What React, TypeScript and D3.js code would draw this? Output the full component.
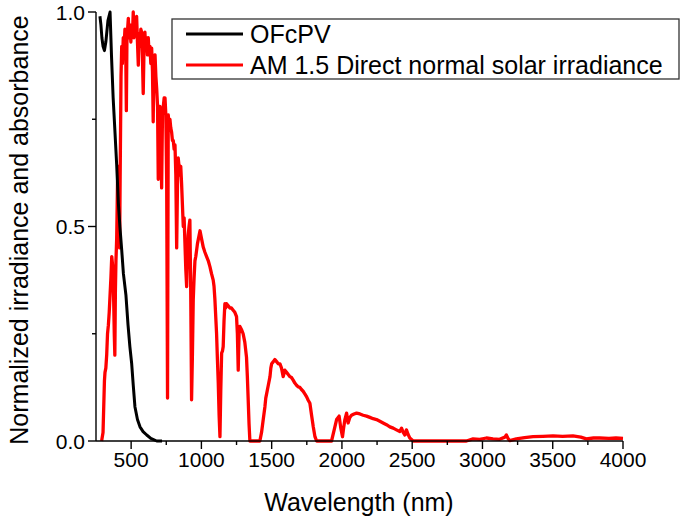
import * as d3 from 'd3';

type Pt = [number, number];

// OFcPV normalized absorbance (wavelength nm, value)
const ofcpv: Pt[] = [
  [278, 0.99], [285, 0.97], [292, 0.94], [300, 0.92], [310, 0.91], [320, 0.93],
  [335, 0.98], [350, 1.0], [360, 0.9], [372, 0.8], [385, 0.72], [397, 0.645],
  [409, 0.555], [420, 0.5], [433, 0.445], [445, 0.39], [463, 0.34], [478, 0.27],
  [491, 0.22], [504, 0.18], [515, 0.13], [527, 0.08], [545, 0.05], [563, 0.033],
  [585, 0.022], [611, 0.014], [640, 0.006], [682, 0.0], [720, 0.0],
];

// AM 1.5 direct normal solar irradiance, normalized
const am15: Pt[] = [
  [290, 0], [300, 0.02], [305, 0.08], [310, 0.14], [314, 0.16], [320, 0.17], [326, 0.2],
  [332, 0.25], [338, 0.27], [344, 0.3], [350, 0.34], [356, 0.38], [362, 0.43], [368, 0.41],
  [374, 0.36], [380, 0.25], [384, 0.2], [388, 0.35], [392, 0.42], [397, 0.47], [403, 0.6],
  [409, 0.64], [413, 0.52], [418, 0.45], [422, 0.62], [428, 0.85], [433, 0.92], [438, 0.88],
  [444, 0.94], [450, 0.92], [456, 0.96], [462, 0.9], [466, 0.77], [470, 0.93], [475, 0.96],
  [480, 0.985], [486, 0.94], [492, 0.97], [498, 0.93], [504, 0.97], [510, 0.95], [515, 1.0],
  [520, 0.94], [527, 0.98], [533, 0.95], [539, 0.99], [545, 0.93], [551, 0.876], [557, 0.95],
  [563, 0.92], [569, 0.96], [575, 0.953], [580, 0.9], [586, 0.81], [592, 0.92], [598, 0.953],
  [604, 0.91], [610, 0.94], [616, 0.9], [622, 0.94], [628, 0.9], [634, 0.92], [640, 0.88],
  [646, 0.916], [652, 0.86], [657, 0.744], [662, 0.88], [670, 0.9], [676, 0.85], [682, 0.82],
  [688, 0.78], [693, 0.61], [699, 0.78], [705, 0.78], [711, 0.74], [717, 0.59], [723, 0.76],
  [729, 0.78], [735, 0.8], [741, 0.8], [747, 0.76], [753, 0.6], [759, 0.1], [764, 0.76],
  [770, 0.74], [776, 0.75], [782, 0.73], [788, 0.72], [794, 0.7], [800, 0.7], [806, 0.68],
  [812, 0.69], [818, 0.62], [824, 0.45], [830, 0.6], [835, 0.66], [841, 0.64], [847, 0.62],
  [853, 0.64], [859, 0.6], [865, 0.55], [871, 0.5], [877, 0.52], [883, 0.46], [889, 0.4],
  [895, 0.36], [900, 0.42], [906, 0.48], [912, 0.5], [918, 0.515], [924, 0.35], [930, 0.096],
  [936, 0.2], [942, 0.33], [948, 0.38], [954, 0.42], [960, 0.43], [966, 0.445], [972, 0.46],
  [978, 0.47], [984, 0.48], [990, 0.49], [996, 0.48], [1002, 0.47], [1013, 0.452], [1025, 0.44],
  [1037, 0.43], [1049, 0.42], [1061, 0.406], [1072, 0.39], [1084, 0.375], [1090, 0.36],
  [1096, 0.33], [1102, 0.29], [1108, 0.25], [1114, 0.19], [1120, 0.135], [1126, 0.06],
  [1132, 0.01], [1138, 0.12], [1144, 0.205], [1150, 0.21], [1155, 0.22], [1161, 0.28],
  [1167, 0.32], [1173, 0.31], [1179, 0.32], [1191, 0.315], [1203, 0.31], [1214, 0.31],
  [1226, 0.305], [1238, 0.3], [1250, 0.29], [1256, 0.25], [1262, 0.165], [1268, 0.25],
  [1274, 0.267], [1285, 0.26], [1297, 0.25], [1309, 0.23], [1321, 0.195], [1327, 0.15],
  [1333, 0.096], [1339, 0.04], [1345, 0], [1416, 0], [1428, 0.02], [1440, 0.05], [1452, 0.08],
  [1458, 0.1], [1464, 0.11], [1476, 0.13], [1488, 0.15], [1494, 0.17], [1500, 0.18],
  [1512, 0.185], [1523, 0.19], [1535, 0.185], [1547, 0.18], [1559, 0.18], [1570, 0.17],
  [1582, 0.15], [1594, 0.165], [1606, 0.16], [1618, 0.155], [1630, 0.15], [1641, 0.148],
  [1653, 0.142], [1665, 0.135], [1677, 0.13], [1689, 0.126], [1701, 0.125], [1712, 0.12],
  [1724, 0.116], [1736, 0.11], [1749, 0.103], [1760, 0.095], [1772, 0.088], [1784, 0.06],
  [1796, 0.033], [1808, 0.01], [1820, 0], [1926, 0], [1944, 0.025], [1962, 0.05], [1980, 0.058],
  [1992, 0.03], [2004, 0.01], [2012, 0.03], [2021, 0.05], [2033, 0.065], [2044, 0.042],
  [2056, 0.055], [2068, 0.06], [2086, 0.063], [2104, 0.065], [2128, 0.063], [2151, 0.06],
  [2175, 0.058], [2199, 0.055], [2222, 0.052], [2246, 0.05], [2270, 0.046], [2293, 0.042],
  [2317, 0.038], [2341, 0.033], [2365, 0.03], [2388, 0.026], [2412, 0.022], [2424, 0.03],
  [2436, 0.02], [2448, 0.014], [2459, 0.026], [2471, 0.015], [2483, 0.007], [2507, 0],
  [2886, 0], [2933, 0.005], [2980, 0.004], [3028, 0.007], [3075, 0.005], [3122, 0.004],
  [3160, 0.009], [3170, 0.014], [3182, 0.006], [3194, 0.001], [3241, 0.005], [3300, 0.008],
  [3360, 0.01], [3430, 0.011], [3502, 0.012], [3570, 0.011], [3644, 0.012], [3700, 0.009],
  [3739, 0.005], [3790, 0.007], [3834, 0.007], [3900, 0.006], [3950, 0.007], [4000, 0.006],
];

const xMajor = [500, 1000, 1500, 2000, 2500, 3000, 3500, 4000];
const xMinor = [750, 1250, 1750, 2250, 2750, 3250, 3750];
const yMajor = [0, 0.5, 1.0];
const yMinor = [0.25, 0.75];

const seriesNames = ['OFcPV', 'AM 1.5 Direct normal solar irradiance'];
const seriesColors = ['#000000', '#ff0000'];

const W = 685;
const H = 520;
const font = 'Liberation Sans, Arial, sans-serif';

export default function App() {
  const x = d3.scaleLinear().domain([250, 4000]).range([96, 623]);
  const y = d3.scaleLinear().domain([0, 1]).range([441, 12]);
  const line = d3
    .line<Pt>()
    .x((d) => x(d[0]))
    .y((d) => y(d[1]));

  return (
    <svg
      width={W}
      height={H}
      style={{ position: 'absolute', left: 0, top: 0, background: '#fff' }}
      fontFamily={font}
    >
      <path d={line(am15) ?? ''} fill="none" stroke="#ff0000" strokeWidth={3.3} strokeLinejoin="round" />
      <path d={line(ofcpv) ?? ''} fill="none" stroke="#000" strokeWidth={3} strokeLinejoin="round" />

      {/* axes */}
      <line x1={x(250)} x2={x(4000)} y1={y(0)} y2={y(0)} stroke="#000" strokeWidth={1.4} />
      <line x1={x(250)} x2={x(250)} y1={y(0)} y2={y(1)} stroke="#000" strokeWidth={1.4} />
      {xMajor.map((t) => (
        <g key={'xm' + t}>
          <line x1={x(t)} x2={x(t)} y1={y(0)} y2={y(0) + 8} stroke="#000" strokeWidth={1.4} />
          <text x={x(t)} y={467} textAnchor="middle" fontSize={21}>
            {t}
          </text>
        </g>
      ))}
      {xMinor.map((t) => (
        <line key={'xn' + t} x1={x(t)} x2={x(t)} y1={y(0)} y2={y(0) + 4} stroke="#000" strokeWidth={1.4} />
      ))}
      {yMajor.map((t) => (
        <g key={'ym' + t}>
          <line x1={x(250) - 8} x2={x(250)} y1={y(t)} y2={y(t)} stroke="#000" strokeWidth={1.4} />
          <text x={85} y={y(t) + 7.5} textAnchor="end" fontSize={21}>
            {t.toFixed(1)}
          </text>
        </g>
      ))}
      {yMinor.map((t) => (
        <line key={'yn' + t} x1={x(250) - 4} x2={x(250)} y1={y(t)} y2={y(t)} stroke="#000" strokeWidth={1.4} />
      ))}

      <text x={359} y={511} textAnchor="middle" fontSize={25}>
        Wavelength (nm)
      </text>
      <text transform="translate(28,230) rotate(-90)" textAnchor="middle" fontSize={25}>
        Normalized irradiance and absorbance
      </text>

      {/* legend */}
      <rect x={172} y={19} width={507} height={60} fill="#fff" stroke="#333" strokeWidth={1.3} />
      {seriesNames.map((n, i) => (
        <g key={n}>
          <line x1={186} x2={243} y1={34 + i * 31} y2={34 + i * 31} stroke={seriesColors[i]} strokeWidth={3.2} />
          <text x={250} y={43 + i * 31} fontSize={25}>
            {n}
          </text>
        </g>
      ))}
    </svg>
  );
}
